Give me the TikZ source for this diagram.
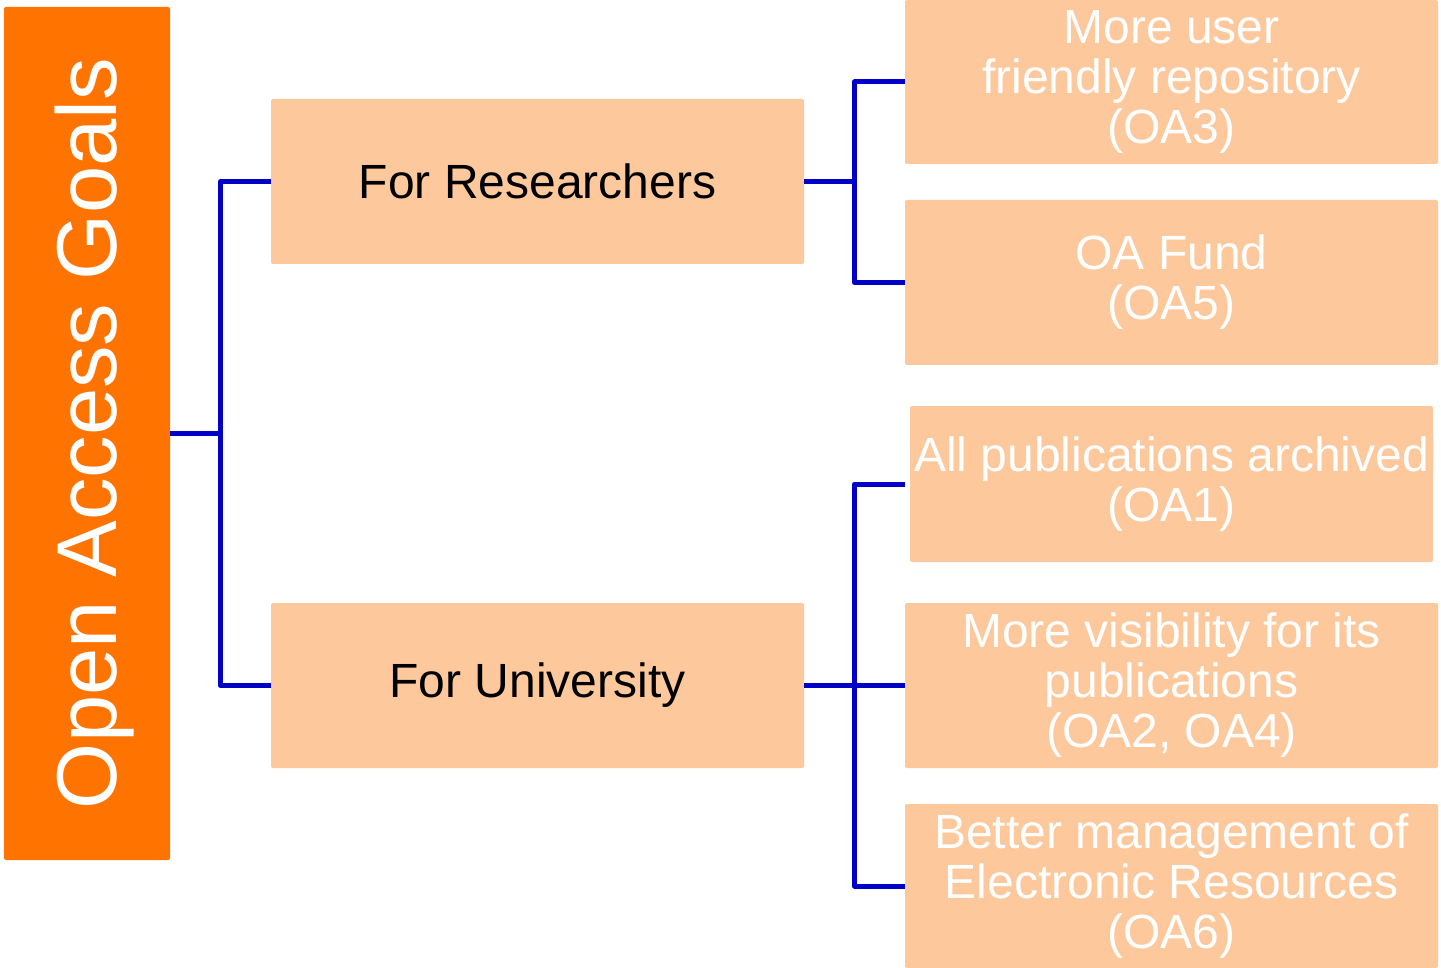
\documentclass[tikz,border=0pt]{standalone}
\usepackage{fontspec}
\setmainfont{Liberation Sans}
\definecolor{goalorange}{RGB}{255,115,0}
\definecolor{peach}{RGB}{253,200,156}
\definecolor{connblue}{RGB}{0,0,200}
\begin{document}
\begin{tikzpicture}[x=1pt,y=-1pt,
  goalbox/.style={fill=goalorange,rounded corners=2pt,minimum width=166pt,minimum height=853pt,inner sep=0pt},
  goaltxt/.style={text=white,font=\fontsize{85}{90}\selectfont,rotate=90,anchor=base,inner sep=0pt},
  lbox/.style={fill=peach,rounded corners=2pt,minimum width=533pt,minimum height=165pt,inner sep=0pt,text=black,font=\fontsize{48}{50}\selectfont},
  rbox/.style={fill=peach,rounded corners=2pt,minimum width=533pt,minimum height=164pt,inner sep=0pt,text=white,align=center,font=\fontsize{48}{50}\selectfont},
  conn/.style={draw=connblue,line width=5pt,line join=round}]
\useasboundingbox (0,0) rectangle (1441,968);
\node[goalbox] (goal) at (87,433.5) {};
\node[goaltxt] (goaltext) at (116,433.5) {Open Access Goals};
\node[lbox] (res) at (537.5,181.5) {For Researchers};
\node[lbox] (uni) at (537.5,685.5) {For University};
\node[rbox] (oa3) at (1171.5,82) {More user\\friendly repository\\(OA3)};
\node[rbox,minimum height=165pt] (oa5) at (1171.5,282.5) {OA Fund\\(OA5)};
\node[rbox,minimum width=523pt,minimum height=156pt] (oa1) at (1171.5,484) {All publications archived\\(OA1)};
\node[rbox,minimum height=165pt] (oa24) at (1171.5,685.5) {More visibility for its\\publications\\(OA2, OA4)};
\node[rbox] (oa6) at (1171.5,886) {Better management of\\Electronic Resources\\(OA6)};
\coordinate (j1) at (220.5,433.5);
\coordinate (j2) at (854.5,181.5);
\coordinate (j3) at (854.5,685.5);
\draw[conn] (goal.east) -- (j1);
\draw[conn] (res.west) -| (j1) |- (uni.west);
\draw[conn] (res.east) -- (j2);
\draw[conn] (oa3.west) -| (j2) |- (oa5.west);
\draw[conn] (uni.east) -- (oa24.west);
\draw[conn] ([xshift=-5pt]oa1.west) -| (j3) |- (oa6.west);
\end{tikzpicture}
\end{document}
